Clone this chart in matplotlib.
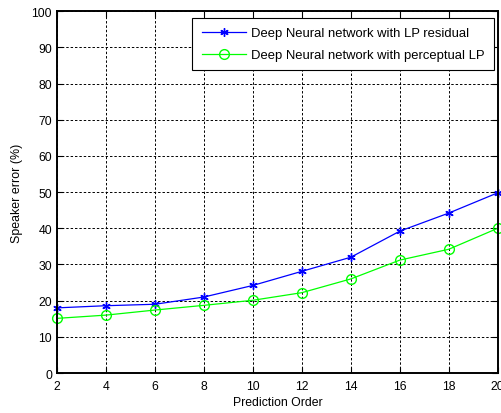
import numpy as np
import matplotlib
matplotlib.use('Agg')
import matplotlib.pyplot as plt

plt.rcParams['font.family'] = ['Liberation Sans', 'DejaVu Sans']

# prediction order and speaker error values
order = [2, 4, 6, 8, 10, 12, 14, 16, 18, 20]
lp_residual = [18.0, 18.6, 19.0, 21.0, 24.2, 28.1, 32.0, 39.2, 44.2, 49.8]
perceptual_lp = [15.1, 16.0, 17.4, 18.7, 20.1, 22.2, 26.0, 31.2, 34.2, 40.0]

fig = plt.figure(figsize=(5.02, 4.14), dpi=100)
ax = fig.add_axes([0.1135, 0.0966, 0.878, 0.874])

ax.plot(order, lp_residual, color='blue', marker=(6, 2, 0), markersize=6,
        markeredgewidth=1.0, linewidth=0.9,
        label='Deep Neural network with LP residual', clip_on=False)
ax.plot(order, perceptual_lp, color='#00ff00', marker='o', markersize=7,
        markerfacecolor='none', linewidth=0.9,
        label='Deep Neural network with perceptual LP', clip_on=False)

ax.set_xlim(2, 20)
ax.set_ylim(0, 100)
ax.set_xticks(order)
ax.set_yticks(np.arange(0, 101, 10))
ax.grid(True, color='black', linestyle=(0, (2.5, 2)), linewidth=0.7)
ax.tick_params(direction='in', labelsize=8.8, length=4, top=True, right=True)
ax.tick_params(axis='x', pad=5)
for s in ax.spines.values():
    s.set_linewidth(1.4)

ax.set_xlabel('Prediction Order', fontsize=8.8, labelpad=3)
ax.set_ylabel('Speaker error (%)', fontsize=8.9, labelpad=6)

leg = ax.legend(loc='upper right', bbox_to_anchor=(0.991, 0.981), borderaxespad=0,
                fontsize=9.4, fancybox=False, framealpha=1,
                edgecolor='black', handlelength=3.4,
                borderpad=0.7, labelspacing=0.75, handletextpad=0.4)
leg.get_frame().set_linewidth(0.8)

plt.savefig('out.png', dpi=100)
